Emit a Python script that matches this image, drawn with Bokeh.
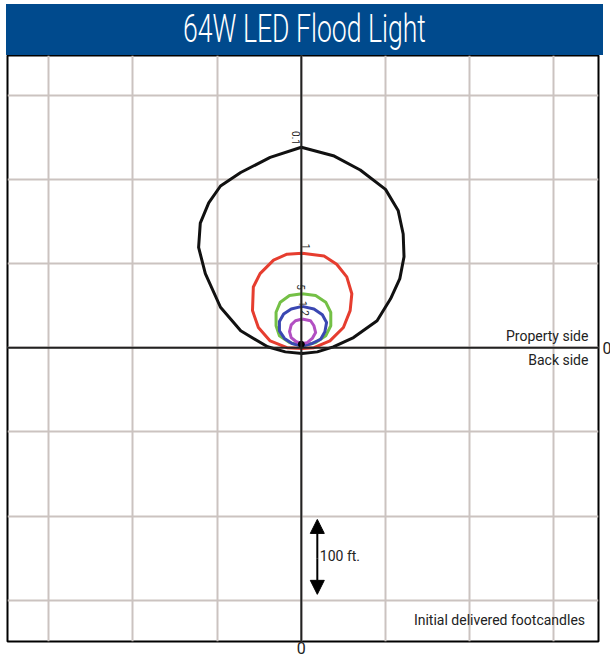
import math
from bokeh.plotting import figure
from bokeh.models import (Div, FixedTicker, Span, Arrow, NormalHead, Range1d)
from bokeh.core.properties import value
from bokeh.embed import file_html
from bokeh.resources import INLINE
from bokeh.layouts import column

TITLE = "64W LED Flood Light"
GRID_TICKS = [-300, -200, -100, 0, 100, 200, 300]
AXIS_TICKS = [0]

# footcandle isolines (feet)
c01_x = [0, 38, 70, 100, 115, 121, 122, 117, 106, 90, 62, 38, 19, 1, -19, -40, -72, -96, -114, -122, -120, -110, -96, -72, -37, 0]
c01_y = [238, 228, 211, 188, 163, 135, 108, 82, 58, 32, 12, 1, -5, -7, -5, 1, 20, 48, 88, 119, 148, 172, 192, 208, 226, 238]
c1_x = [1, 27, 42, 54, 60, 58, 50, 34, 15, 1, -17, -37, -51, -58, -57, -49, -33, -17, 1]
c1_y = [112, 109, 99, 84, 64, 44, 24, 8, 0, -1, 0, 8, 24, 44, 72, 88, 104, 111, 112]
c5_x = [1, 17, 29, 35, 35, 29, 17, 1, -14, -26, -30, -30, -25, -14, 1]
c5_y = [64, 62, 54, 42, 26, 14, 6, 2, 6, 14, 26, 42, 54, 62, 64]
c10_x = [1, 15, 25, 30, 28, 23, 13, 1, -11, -20, -26, -26, -21, -12, 1]
c10_y = [49, 46, 39, 30, 19, 10, 5, 2, 5, 11, 20, 31, 40, 46, 49]
c20_x = [1, 11, 15, 17, 13, 7, 1, -6, -12, -14, -12, -7, 1]
c20_y = [34, 32, 26, 18, 11, 6, 5, 7, 12, 19, 27, 32, 34]

contour_labels = ["0.1", "1", "5", "1", "2"]
label_x = [-6, 5, 0, 2, 4]
label_y = [249, 120, 72, 52, 41]

fixture_x = [0]
fixture_y = [4]

FONT = "Roboto"

title = Div(text='<span style="display:inline-block;transform:scaleX(0.7);">' + TITLE + '</span>',
            width=597, height=51, margin=(4, 0, 0, 6),
            styles={"background-color": "#004a8d", "color": "white",
                    "font-family": "Roboto, sans-serif", "font-weight": "300",
                    "font-size": "38px", "text-align": "center", "line-height": "51px",
                    "white-space": "nowrap", "overflow": "hidden"})

p = figure(frame_width=591, frame_height=586, x_range=Range1d(-349, 353), y_range=Range1d(-349, 347),
           output_backend="svg", toolbar_location=None, x_axis_location="below", y_axis_location="right",
           min_border_left=7, min_border_top=0, min_border_right=10, min_border_bottom=12)
p.outline_line_color = "black"
p.outline_line_width = 2
p.background_fill_color = "white"
p.border_fill_color = "white"

for g in (p.xgrid, p.ygrid):
    g.ticker = FixedTicker(ticks=GRID_TICKS)
    g.grid_line_color = "#cbc3c0"
    g.grid_line_width = 2

for ax in (p.xaxis, p.yaxis):
    ax.ticker = FixedTicker(ticks=AXIS_TICKS)
    ax.axis_line_color = None
    ax.major_tick_line_color = None
    ax.minor_tick_line_color = None
    ax.major_tick_out = 0
    ax.major_tick_in = 0
    ax.major_label_text_font = FONT
    ax.major_label_text_font_size = "16px"
    ax.major_label_text_color = "#222222"
p.xaxis.major_label_standoff = 0
p.yaxis.major_label_standoff = 4

p.add_layout(Span(location=0, dimension="height", line_color="#222222", line_width=2))
p.add_layout(Span(location=0, dimension="width", line_color="#222222", line_width=2))

kw = dict(line_width=3, line_join="round")
p.line(c01_x, c01_y, line_color="#111111", **kw)
p.line(c1_x, c1_y, line_color="#e63d2f", **kw)
p.line(c5_x, c5_y, line_color="#74c046", **kw)
p.line(c10_x, c10_y, line_color="#3a47b2", **kw)
p.line(c20_x, c20_y, line_color="#b24fc2", **kw)
p.scatter(fixture_x, fixture_y, size=6, color="black")

p.text(label_x, label_y, text=contour_labels, angle=-math.pi / 2, text_align="center",
       text_baseline="middle", text_font=value(FONT), text_font_size="10px", text_color="#222222")

tkw = dict(text_font=value(FONT), text_font_size="14px", text_color="#222222", text_baseline="middle")
p.text([341], [14], text=["Property side"], text_align="right", **tkw)
p.text([341], [-15], text=["Back side"], text_align="right", **tkw)
p.text([337], [-324], text=["Initial delivered footcandles"], text_align="right", **tkw)
p.text([22], [-248], text=["100 ft."], text_align="left", **tkw)

p.add_layout(Arrow(x_start=19, y_start=-250, x_end=19, y_end=-204,
                   end=NormalHead(size=14, fill_color="black", line_color="black"),
                   line_width=2, line_color="black"))
p.add_layout(Arrow(x_start=19, y_start=-250, x_end=19, y_end=-293,
                   end=NormalHead(size=14, fill_color="black", line_color="black"),
                   line_width=2, line_color="black"))

layout = column(title, p, spacing=0)
open("out.html", "w").write(file_html(layout, INLINE))
